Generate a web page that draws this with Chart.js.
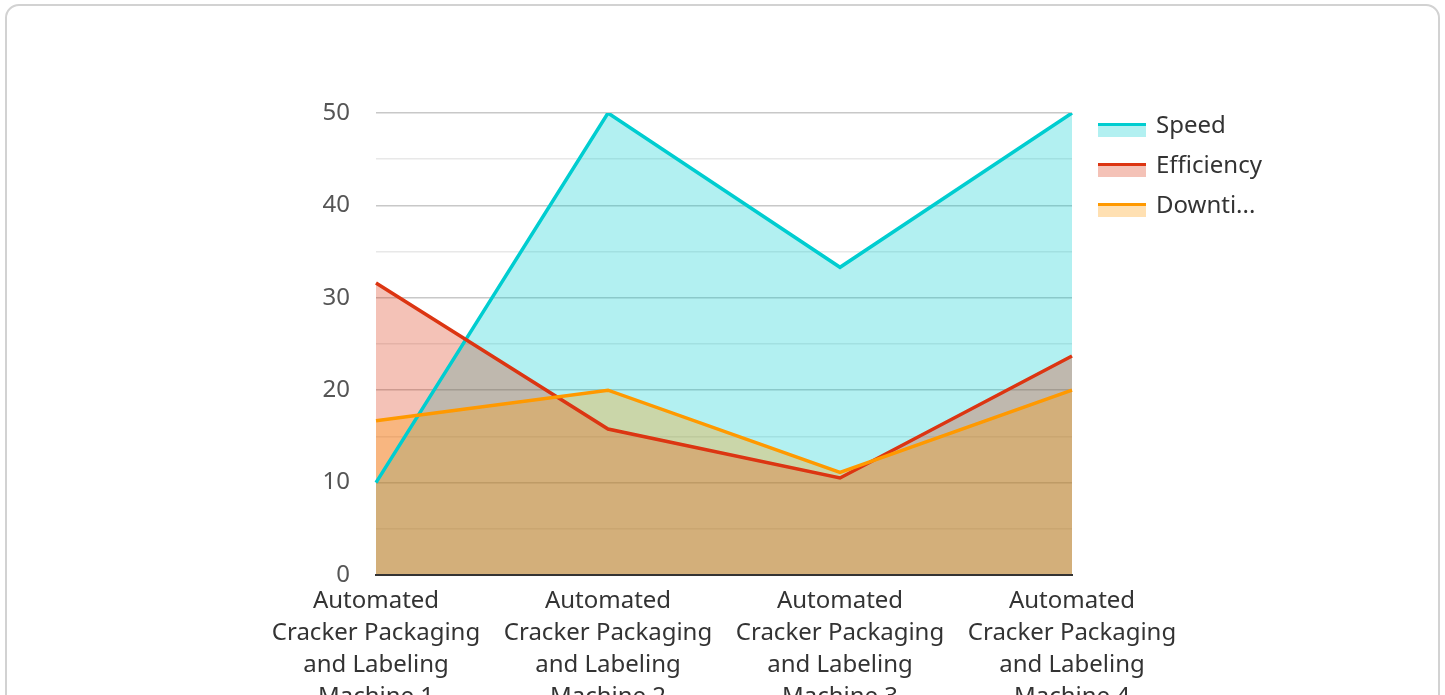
<!DOCTYPE html>
<html>
<head>
<meta charset="utf-8">
<script src="https://cdn.jsdelivr.net/npm/chart.js@4/dist/chart.umd.min.js"></script>
<style>
  html, body { margin: 0; padding: 0; width: 1445px; height: 695px; overflow: hidden; background: #fff; font-family: "Noto Sans", sans-serif; }
  #card { position: absolute; left: 5px; top: 4px; width: 1435px; height: 820px; box-sizing: border-box; border: 2px solid #d2d2d2; border-radius: 14px; }
  #c { position: absolute; left: 0; top: 0; }
</style>
</head>
<body>
<div id="card"></div>
<canvas id="c" width="1445" height="820"></canvas>
<script>
const categories = [
  ["Automated", "Cracker Packaging", "and Labeling", "Machine 1"],
  ["Automated", "Cracker Packaging", "and Labeling", "Machine 2"],
  ["Automated", "Cracker Packaging", "and Labeling", "Machine 3"],
  ["Automated", "Cracker Packaging", "and Labeling", "Machine 4"]
];
const seriesNames = ["Speed", "Efficiency", "Downtime"];
const speed = [10, 50, 33.3, 50];
const efficiency = [31.6, 15.8, 10.5, 23.7];
const downtime = [16.7, 20, 11.1, 20];
const lineColors = ["#00cdd0", "#dc3512", "#ff9900"];
const fillColors = ["rgba(0,205,208,0.3)", "rgba(220,53,18,0.3)", "rgba(255,153,0,0.3)"];
const yMin = 0, yMax = 50, yStep = 5;

const FONT = '"Noto Sans", sans-serif';

const legendPlugin = {
  id: 'customLegend',
  afterDraw(chart) {
    const ctx = chart.ctx;
    ctx.save();
    const x0 = 1098, y0 = 123, gap = 40, w = 48, maxW = 110;
    ctx.font = '24px ' + FONT;
    ctx.textBaseline = 'middle';
    ctx.textAlign = 'left';
    chart.data.datasets.forEach((ds, i) => {
      const y = y0 + i * gap;
      ctx.fillStyle = fillColors[i];
      ctx.fillRect(x0, y + 3, w, 11);
      ctx.fillStyle = lineColors[i];
      ctx.fillRect(x0, y, w, 3);
      let t = ds.label;
      if (ctx.measureText(t).width > maxW) {
        while (t.length > 0 && ctx.measureText(t + '...').width > maxW) t = t.slice(0, -1);
        t = t + '...';
      }
      ctx.fillStyle = '#333';
      ctx.fillText(t, x0 + 58, y + 3);
    });
    ctx.restore();
  }
};

const values = [speed, efficiency, downtime];
new Chart(document.getElementById('c'), {
  type: 'line',
  data: {
    labels: categories,
    datasets: seriesNames.map((name, i) => ({
      label: name,
      data: values[i],
      borderColor: lineColors[i],
      backgroundColor: fillColors[i],
      borderWidth: 3.5,
      fill: 'origin',
      pointRadius: 0,
      pointHoverRadius: 0,
      tension: 0,
      order: 2 - i
    }))
  },
  options: {
    responsive: false,
    animation: false,
    events: [],
    layout: { padding: { top: 113, right: 373, left: 0, bottom: 0 } },
    plugins: {
      legend: { display: false },
      tooltip: { enabled: false },
      filler: { drawTime: 'beforeDatasetsDraw' }
    },
    scales: {
      x: {
        offset: false,
        grid: { display: false, drawTicks: false },
        border: { display: true, color: '#333', width: 2, z: 1 },
        ticks: {
          padding: 10,
          maxRotation: 0,
          autoSkip: false,
          color: '#333',
          font: { family: FONT, size: 24, lineHeight: '32px' }
        },
        afterFit(scale) { scale.height = 820 - 575; }
      },
      y: {
        min: yMin, max: yMax,
        grid: {
          drawTicks: false,
          lineWidth: 1.5,
          color: (c) => (c.tick && c.tick.value % 10 === 0) ? '#c8c8c8' : '#e8e8e8'
        },
        border: { display: false },
        ticks: {
          stepSize: yStep,
          padding: 26,
          color: '#555',
          font: { family: FONT, size: 24 },
          callback: (v) => (v % 10 === 0 ? v : '')
        },
        afterFit(scale) { scale.width = 376; }
      }
    }
  },
  plugins: [legendPlugin]
});
</script>
</body>
</html>
